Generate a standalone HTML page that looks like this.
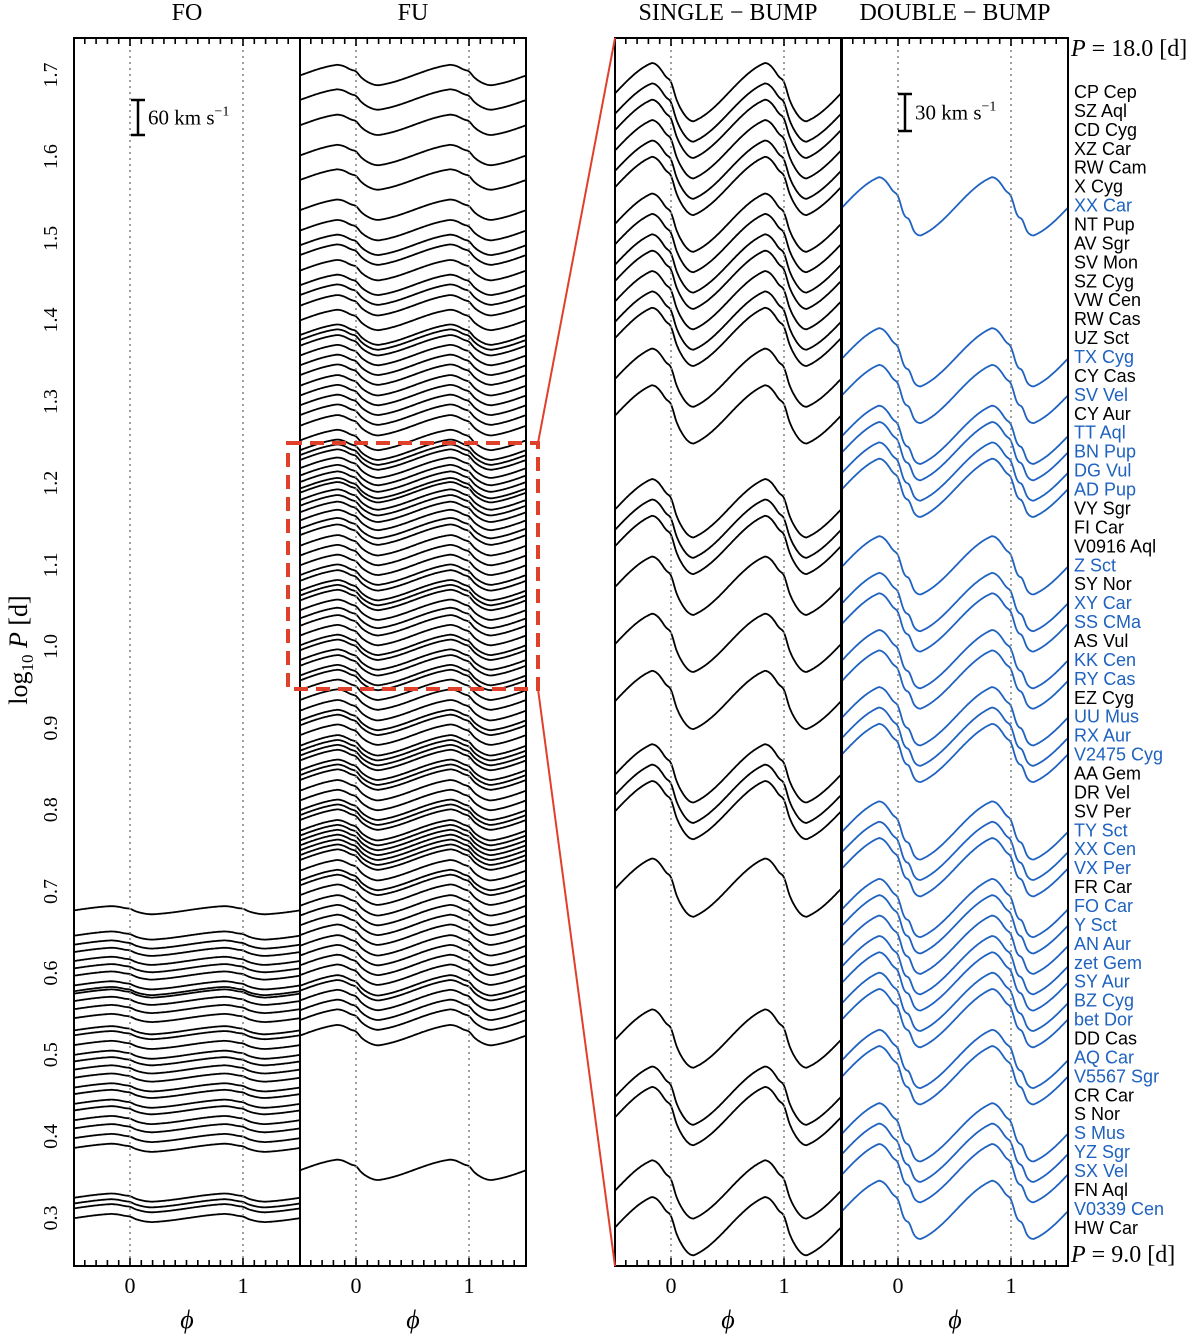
<!DOCTYPE html>
<html><head><meta charset="utf-8"><style>
body{margin:0;background:#fff}
svg{display:block}
.serif{font-family:"Liberation Serif",serif}
.sans{font-family:"Liberation Sans",sans-serif}
</style></head><body>
<svg id="chart" width="1200" height="1336" viewBox="0 0 1200 1336" xmlns="http://www.w3.org/2000/svg">
<g id="marks"></g>
<g id="axes"></g>
</svg>
<script>
const foLogP=[0.677,0.646,0.635,0.626,0.615,0.606,0.597,0.585,0.578,0.575,0.566,0.556,0.545,0.530,0.524,0.512,0.500,0.492,0.482,0.472,0.460,0.452,0.440,0.432,0.420,0.410,0.398,0.386,0.325,0.318,0.312,0.300];
const fuLogP=[1.700,1.670,1.639,1.602,1.572,1.535,1.510,1.492,1.480,1.461,1.443,1.431,1.418,1.400,1.382,1.376,1.369,1.357,1.345,1.333,1.320,1.308,1.296,1.284,1.271,1.253,1.241,1.235,1.229,1.219,1.210,1.202,1.194,1.189,1.180,1.173,1.165,1.155,1.145,1.137,1.124,1.112,1.100,1.088,1.081,1.069,1.063,1.057,1.045,1.035,1.026,1.014,1.002,0.996,0.984,0.977,0.965,0.959,0.947,0.935,0.922,0.910,0.904,0.892,0.879,0.873,0.867,0.861,0.849,0.843,0.837,0.824,0.812,0.800,0.794,0.788,0.775,0.769,0.763,0.757,0.751,0.745,0.739,0.726,0.714,0.708,0.696,0.683,0.671,0.659,0.647,0.634,0.622,0.610,0.598,0.585,0.579,0.567,0.555,0.543,0.524,0.359];
const starNames=["CP Cep","SZ Aql","CD Cyg","XZ Car","RW Cam","X Cyg","XX Car","NT Pup","AV Sgr","SV Mon","SZ Cyg","VW Cen","RW Cas","UZ Sct","TX Cyg","CY Cas","SV Vel","CY Aur","TT Aql","BN Pup","DG Vul","AD Pup","VY Sgr","FI Car","V0916 Aql","Z Sct","SY Nor","XY Car","SS CMa","AS Vul","KK Cen","RY Cas","EZ Cyg","UU Mus","RX Aur","V2475 Cyg","AA Gem","DR Vel","SV Per","TY Sct","XX Cen","VX Per","FR Car","FO Car","Y Sct","AN Aur","zet Gem","SY Aur","BZ Cyg","bet Dor","DD Cas","AQ Car","V5567 Sgr","CR Car","S Nor","S Mus","YZ Sgr","SX Vel","FN Aql","V0339 Cen","HW Car"];
const starDouble=[0,0,0,0,0,0,1,0,0,0,0,0,0,0,1,0,1,0,1,1,1,1,0,0,0,1,0,1,1,0,1,1,0,1,1,1,0,0,0,1,1,1,0,1,1,1,1,1,1,1,0,1,1,0,0,1,1,1,0,1,0];
const starLogP=[1.242,1.237,1.233,1.228,1.223,1.219,1.214,1.210,1.205,1.200,1.196,1.191,1.186,1.182,1.177,1.172,1.168,1.163,1.158,1.154,1.149,1.145,1.140,1.135,1.131,1.126,1.121,1.117,1.112,1.107,1.103,1.098,1.093,1.089,1.084,1.080,1.075,1.070,1.066,1.061,1.056,1.052,1.047,1.042,1.038,1.033,1.028,1.024,1.019,1.015,1.010,1.005,1.001,0.996,0.991,0.987,0.982,0.977,0.973,0.968,0.964];
const yTicks=[0.3,0.4,0.5,0.6,0.7,0.8,0.9,1.0,1.1,1.2,1.3,1.4,1.5,1.6,1.7];
const ampFO=14, ampFU=35, ampZoom=46; // km/s peak-to-peak

const NS="http://www.w3.org/2000/svg";
const marks=document.getElementById('marks'), axes=document.getElementById('axes');
function mk(tag,attrs,parent){const e=document.createElementNS(NS,tag);for(const k in attrs)e.setAttribute(k,attrs[k]);parent.appendChild(e);return e;}
const yLeft=v=>1218-(v-0.3)*816.4;
const yZoom=v=>1266-(v-Math.log10(9))/Math.log10(2)*1228;
const TOP=38,BOT=1266;
const panels=[{x0:74,name:'fo'},{x0:300,name:'fu'},{x0:615,name:'single-bump'},{x0:842,name:'double-bump'}];
const xPh=(p,ph)=>p.x0+56+ph*113;

function tmpl(ph,dbl){
  const q=((ph-0.83)%1+1)%1;
  let v;
  if(q<0.37){v=Math.cos(Math.PI*q/0.37);}
  else{const u=(q-0.37)/0.63;v=0.5*(-Math.cos(Math.PI*u))+0.5*(2*u-1);}
  const pp=((ph%1)+1)%1;
  const d=(a)=>{let x=pp-a;if(x>0.5)x-=1;if(x<-0.5)x+=1;return x;};
  v+=0.22*Math.exp(-Math.pow(d(0.0)/0.035,2));
  if(dbl)v+=0.2*Math.exp(-Math.pow(d(0.1)/0.03,2));
  return v/2;
}
function curve(p,yc,amp,pxPerKm,dbl,color,name){
  let d='';
  for(let i=0;i<=200;i++){const ph=-0.5+i*0.01;const x=xPh(p,ph);const y=yc-tmpl(ph,dbl)*amp*pxPerKm;d+=(i?'L':'M')+x.toFixed(1)+' '+y.toFixed(1);}
  const e=mk('path',{d:d,fill:'none',stroke:color,'stroke-width':1.8},marks);
  
  
}
foLogP.forEach((v,i)=>curve(panels[0],yLeft(v),ampFO,0.583,false,'#000','fo-curve-'+i));
fuLogP.forEach((v,i)=>curve(panels[1],yLeft(v),ampFU,0.583,false,'#000','fu-curve-'+i));
starLogP.forEach((v,i)=>{
  const dbl=starDouble[i]===1;
  curve(dbl?panels[3]:panels[2],yZoom(v),ampZoom,1.267,dbl,dbl?'#1f62c0':'#000','curve-'+starNames[i].toLowerCase().replace(/\s+/g,'-'));
});

panels.forEach(p=>{
  [0,1].forEach(ph=>{const e=mk('line',{x1:xPh(p,ph),x2:xPh(p,ph),y1:TOP,y2:BOT,stroke:'#888','stroke-width':1.6,'stroke-dasharray':'2 4'},axes);
    });
  for(let k=-4;k<=14;k++){const ph=k/10;const x=xPh(p,ph);const L=(k%10===0)?8:6;
    mk('line',{x1:x,x2:x,y1:TOP,y2:TOP+L,stroke:'#000','stroke-width':1.6},axes);
    mk('line',{x1:x,x2:x,y1:BOT,y2:BOT-L,stroke:'#000','stroke-width':1.6},axes);}
  const r=mk('rect',{x:p.x0,y:TOP,width:226,height:BOT-TOP,fill:'none',stroke:'#000','stroke-width':2},axes);
  
  [0,1].forEach(ph=>{const t=mk('text',{x:xPh(p,ph),y:1293,'text-anchor':'middle','font-size':22,class:'serif'},axes);t.textContent=String(ph);
    });
  const f=mk('text',{x:p.x0+113,y:1328,'text-anchor':'middle','font-size':26,'font-style':'italic',class:'serif'},axes);f.textContent='ϕ';
  
});
[['FO',187],['FU',413],['SINGLE − BUMP',728],['DOUBLE − BUMP',955]].forEach(([s,x])=>{
  const t=mk('text',{x:x,y:20,'text-anchor':'middle','font-size':24,class:'serif'},axes);t.textContent=s;
  });
yTicks.forEach(v=>{const y=yLeft(v);
  const t=mk('text',{x:0,y:0,'text-anchor':'middle','font-size':20,class:'serif',transform:`translate(57 ${y}) rotate(-90)`},axes);t.textContent=v.toFixed(1);
  });
const yt=mk('text',{x:0,y:0,'text-anchor':'middle','font-size':26,class:'serif',transform:'translate(27 650) rotate(-90)'},axes);
yt.innerHTML='log<tspan font-size="17" dy="6">10</tspan><tspan dy="-6" font-style="italic"> P</tspan> [d]';

function bar(x,y1,y2,label,name){const g=mk('g',{},axes);
  mk('line',{x1:x,x2:x,y1:y1,y2:y2,stroke:'#000','stroke-width':2.5},g);
  mk('line',{x1:x-7,x2:x+7,y1:y1,y2:y1,stroke:'#000','stroke-width':2.5},g);
  mk('line',{x1:x-7,x2:x+7,y1:y2,y2:y2,stroke:'#000','stroke-width':2.5},g);
  const t=mk('text',{x:x+10,y:(y1+y2)/2+7,'font-size':21,class:'serif'},g);t.innerHTML=label+' km s<tspan font-size="14" dy="-9">−1</tspan>';}
bar(138,100,135,'60','scale-bar-60-kms');
bar(905,94,131,'30','scale-bar-30-kms');
const zr=mk('rect',{x:288,y:443,width:250,height:246,fill:'none',stroke:'#e0402a','stroke-width':4,'stroke-dasharray':'14 8'},axes);

mk('line',{x1:538,y1:443,x2:615,y2:38,stroke:'#e0402a','stroke-width':2},axes);
mk('line',{x1:538,y1:689,x2:615,y2:1266,stroke:'#e0402a','stroke-width':2},axes);
starNames.forEach((s,i)=>{const t=mk('text',{x:1074,y:98+i*18.93,'font-size':18,class:'sans',fill:starDouble[i]?'#1f62c0':'#000'},axes);t.textContent=s;
  });
[['18.0',56],['9.0',1262]].forEach(([p,y])=>{const t=mk('text',{x:1071,y:y,'font-size':24,class:'serif'},axes);
  t.innerHTML='<tspan font-style="italic">P</tspan> = '+p+' [d]';});
</script>
</body></html>
